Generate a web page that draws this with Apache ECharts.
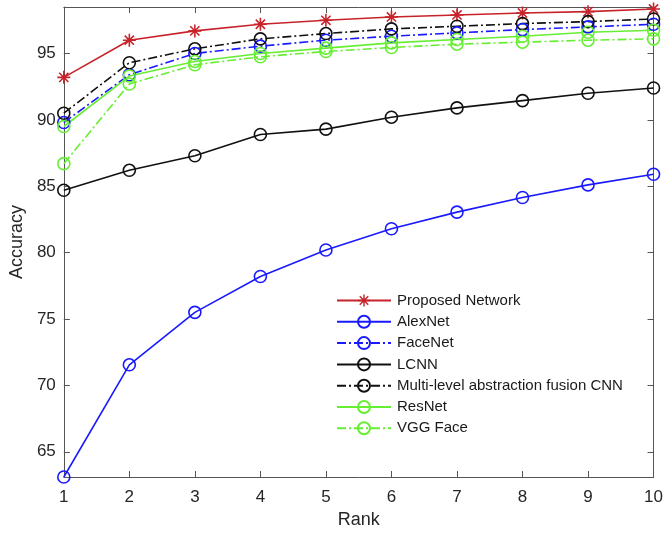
<!DOCTYPE html>
<html>
<head>
<meta charset="utf-8">
<script src="https://cdn.jsdelivr.net/npm/echarts@6/dist/echarts.min.js"></script>
<style>
  html, body { margin: 0; padding: 0; background: #fff; }
  #chart { width: 666px; height: 537px; }
</style>
</head>
<body>
<div id="chart"></div>
<script>
// rank axis
const ranks = [1, 2, 3, 4, 5, 6, 7, 8, 9, 10];
const yTicks = [65, 70, 75, 80, 85, 90, 95];

// accuracy per rank
const proposed  = [93.2, 96.0, 96.7, 97.2, 97.5, 97.75, 97.9, 98.05, 98.15, 98.35];
const alexNet   = [63.1, 71.55, 75.5, 78.2, 80.2, 81.8, 83.05, 84.15, 85.1, 85.9];
const faceNet   = [89.8, 93.4, 95.0, 95.55, 96.0, 96.3, 96.55, 96.8, 97.0, 97.2];
const lcnn      = [84.7, 86.2, 87.3, 88.9, 89.3, 90.2, 90.9, 91.45, 92.0, 92.4];
const multiCnn  = [90.5, 94.3, 95.35, 96.1, 96.5, 96.85, 97.05, 97.25, 97.4, 97.6];
const resNet    = [89.5, 93.3, 94.4, 95.0, 95.4, 95.8, 96.05, 96.3, 96.6, 96.75];
const vggFace   = [86.7, 92.7, 94.15, 94.75, 95.15, 95.45, 95.7, 95.85, 96.0, 96.1];

const RED = '#c8232b', BLUE = '#1a1aff', BLACK = '#111', GREEN = '#66ee33';
const dashDot = [9, 3, 2, 3];
// asterisk marker like matlab '*'
const star = 'path://M-1.2,-10L1.2,-10L1.2,10L-1.2,10Z M-10,-1.2L10,-1.2L10,1.2L-10,1.2Z ' +
  'M-6.22,-7.92L7.92,6.22L6.22,7.92L-7.92,-6.22Z M7.92,-6.22L-6.22,7.92L-7.92,6.22L6.22,-7.92Z';

const pairs = arr => ranks.map((r, i) => [r, arr[i]]);

function makeSeries(name, data, color, dashed, marker) {
  return {
    name: name,
    type: 'line',
    data: pairs(data),
    symbol: marker === 'star' ? star : 'circle',
    symbolSize: marker === 'star' ? 13 : 12,
    showAllSymbol: true,
    lineStyle: { color: color, width: 1.6, type: dashed ? dashDot : 'solid' },
    itemStyle: marker === 'star'
      ? { color: color, borderWidth: 0 }
      : { color: 'rgba(0,0,0,0)', borderColor: color, borderWidth: 1.6 },
    emphasis: { disabled: true },
    z: 2
  };
}

const chart = echarts.init(document.getElementById('chart'), null, { renderer: 'canvas' });

const axisCol = '#555';
const font = 'Liberation Sans, Arial, Helvetica, sans-serif';

chart.setOption({
  animation: false,
  backgroundColor: '#fff',
  textStyle: { fontFamily: font },
  grid: { left: 60, right: 12, top: 7, bottom: 60 },
  xAxis: [
    {
      type: 'value', min: 1, max: 10, interval: 1,
      name: 'Rank', nameLocation: 'middle', nameGap: 34,
      nameTextStyle: { fontSize: 18, color: '#262626', fontFamily: font },
      axisLine: { show: true, lineStyle: { color: axisCol, width: 1 } },
      axisTick: { show: true, inside: true, length: 6, lineStyle: { color: axisCol } },
      axisLabel: { fontSize: 17, color: '#262626', margin: 12, fontFamily: font },
      splitLine: { show: false }
    },
    {
      type: 'value', min: 1, max: 10, interval: 1, position: 'top',
      axisLine: { show: true, lineStyle: { color: axisCol, width: 1 } },
      axisTick: { show: true, inside: true, length: 6, lineStyle: { color: axisCol } },
      axisLabel: { show: false },
      splitLine: { show: false }
    }
  ],
  yAxis: [
    {
      type: 'value', min: 63.1, max: 98.5, splitNumber: 7, minInterval: 5, maxInterval: 5,
      name: 'Accuracy', nameLocation: 'middle', nameGap: 27,
      nameTextStyle: { fontSize: 18, color: '#262626', fontFamily: font },
      axisLine: { show: true, lineStyle: { color: axisCol, width: 1 } },
      axisTick: { show: true, inside: true, length: 6, lineStyle: { color: axisCol } },
      axisLabel: {
        fontSize: 17, color: '#262626', margin: 8, fontFamily: font,
        showMinLabel: false, showMaxLabel: false,
        formatter: v => (yTicks.indexOf(Math.round(v * 100) / 100) >= 0 ? String(v) : '')
      },
      splitLine: { show: false }
    },
    {
      type: 'value', min: 63.1, max: 98.5, splitNumber: 7, minInterval: 5, maxInterval: 5,
      position: 'right',
      axisLine: { show: true, lineStyle: { color: axisCol, width: 1 } },
      axisTick: { show: true, inside: true, length: 6, lineStyle: { color: axisCol } },
      axisLabel: { show: false },
      splitLine: { show: false }
    }
  ],
  legend: {
    orient: 'vertical',
    left: 336, top: 293,
    padding: 0,
    itemWidth: 54, itemHeight: 15, itemGap: 6.3,
    textStyle: { fontSize: 15, color: '#1a1a1a', fontFamily: font, padding: [0, 0, 0, 1] },
    data: ['Proposed Network', 'AlexNet', 'FaceNet', 'LCNN',
           'Multi-level abstraction fusion CNN', 'ResNet', 'VGG Face']
  },
  series: [
    makeSeries('Proposed Network', proposed, RED, false, 'star'),
    makeSeries('AlexNet', alexNet, BLUE, false, 'o'),
    makeSeries('FaceNet', faceNet, BLUE, true, 'o'),
    makeSeries('LCNN', lcnn, BLACK, false, 'o'),
    makeSeries('Multi-level abstraction fusion CNN', multiCnn, BLACK, true, 'o'),
    makeSeries('ResNet', resNet, GREEN, false, 'o'),
    makeSeries('VGG Face', vggFace, GREEN, true, 'o')
  ]
});
</script>
</body>
</html>
